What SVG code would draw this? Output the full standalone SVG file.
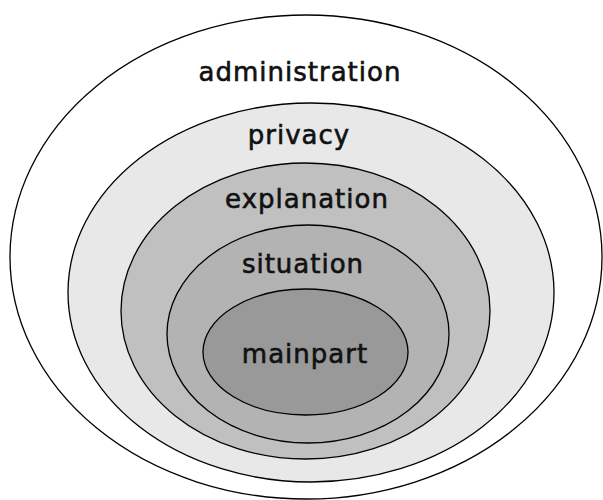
<svg xmlns="http://www.w3.org/2000/svg" width="603" height="500" viewBox="0 0 603 500">
<style>
ellipse{stroke:#000;stroke-width:1.3}
text{font-family:"DejaVu Sans",sans-serif;font-size:26px;fill:#111;stroke:#111;stroke-width:0.6;text-anchor:middle;letter-spacing:1px}
</style>
<rect width="603" height="500" fill="#fff"/>
<g id="administration"><ellipse cx="306" cy="257" rx="296" ry="242" fill="#fff"/><text x="300" y="81">administration</text></g>
<g id="privacy"><ellipse cx="311" cy="292.5" rx="243" ry="189.5" fill="#e8e8e8"/><text x="299" y="144">privacy</text></g>
<g id="explanation"><ellipse cx="305.5" cy="311" rx="184.5" ry="148" fill="#c0c0c0"/><text x="307" y="208">explanation</text></g>
<g id="situation"><ellipse cx="308" cy="334" rx="141" ry="109" fill="#b3b3b3"/><text x="303" y="273">situation</text></g>
<g id="mainpart"><ellipse cx="305.5" cy="352" rx="102.5" ry="63" fill="#999"/><text x="305" y="363">mainpart</text></g>
<g id="connectors"/>
</svg>
